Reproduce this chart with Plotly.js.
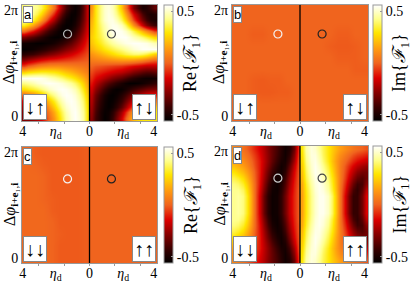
<!DOCTYPE html>
<html><head><meta charset="utf-8">
<script src="https://cdn.plot.ly/plotly-3.0.1.min.js"></script>
<style>html,body{margin:0;padding:0;background:#fff}#plot{width:415px;height:282px}</style>
</head><body><div id="plot"></div>
<script>
// fine grid centres (eta_d from the divider; Delta phi in units of pi) for panels a and d
const etaFine = [0.125, 0.375, 0.625, 0.875, 1.125, 1.375, 1.625, 1.875, 2.125, 2.375, 2.625, 2.875, 3.125, 3.375, 3.625, 3.875];
const phiFine = [0.05, 0.15, 0.25, 0.35, 0.45, 0.55, 0.65, 0.75, 0.85, 0.95, 1.05, 1.15, 1.25, 1.35, 1.45, 1.55, 1.65, 1.75, 1.85, 1.95];
// coarse grid centres for the nearly flat panels b and c
const etaCoarse = [0.25, 0.75, 1.25, 1.75, 2.25, 2.75, 3.25, 3.75];
const phiCoarse = [0.1, 0.3, 0.5, 0.7, 0.9, 1.1, 1.3, 1.5, 1.7, 1.9];

// panel a : Re{F1}; left half = down-up, right half = up-down (rows: phi low -> high)
const aLeft = [
  [0.30, 0.45, 0.52, 0.55, 0.52, 0.45, 0.35, 0.24, 0.13, 0.02, -0.08, -0.16, -0.22, -0.26, -0.29, -0.30],
  [0.30, 0.44, 0.51, 0.55, 0.53, 0.47, 0.38, 0.28, 0.17, 0.06, -0.04, -0.12, -0.19, -0.24, -0.27, -0.28],
  [0.29, 0.42, 0.50, 0.54, 0.54, 0.50, 0.43, 0.34, 0.24, 0.13, 0.02, -0.07, -0.14, -0.19, -0.22, -0.24],
  [0.27, 0.40, 0.48, 0.53, 0.55, 0.53, 0.48, 0.41, 0.32, 0.22, 0.12, 0.03, -0.05, -0.10, -0.14, -0.16],
  [0.24, 0.36, 0.45, 0.51, 0.54, 0.55, 0.53, 0.49, 0.43, 0.36, 0.28, 0.20, 0.13, 0.07, 0.03, 0.00],
  [0.20, 0.31, 0.40, 0.47, 0.51, 0.54, 0.55, 0.54, 0.52, 0.49, 0.45, 0.41, 0.37, 0.34, 0.31, 0.28],
  [0.16, 0.25, 0.33, 0.39, 0.44, 0.48, 0.51, 0.53, 0.54, 0.55, 0.54, 0.52, 0.50, 0.47, 0.44, 0.42],
  [0.12, 0.18, 0.23, 0.28, 0.32, 0.36, 0.40, 0.43, 0.46, 0.49, 0.52, 0.54, 0.55, 0.55, 0.55, 0.55],
  [0.07, 0.10, 0.13, 0.16, 0.19, 0.22, 0.25, 0.28, 0.30, 0.31, 0.32, 0.32, 0.31, 0.30, 0.28, 0.25],
  [0.03, 0.04, 0.05, 0.06, 0.07, 0.08, 0.09, 0.10, 0.10, 0.10, 0.09, 0.08, 0.06, 0.03, 0.00, -0.05],
  [-0.01, -0.02, -0.03, -0.04, -0.05, -0.06, -0.07, -0.08, -0.09, -0.10, -0.12, -0.14, -0.17, -0.20, -0.24, -0.28],
  [-0.04, -0.07, -0.10, -0.13, -0.16, -0.19, -0.22, -0.25, -0.28, -0.31, -0.34, -0.37, -0.40, -0.43, -0.45, -0.47],
  [-0.07, -0.12, -0.17, -0.22, -0.26, -0.30, -0.34, -0.38, -0.41, -0.44, -0.47, -0.49, -0.51, -0.53, -0.54, -0.55],
  [-0.10, -0.17, -0.24, -0.30, -0.36, -0.41, -0.45, -0.48, -0.51, -0.53, -0.54, -0.55, -0.55, -0.54, -0.53, -0.52],
  [-0.13, -0.22, -0.31, -0.39, -0.45, -0.50, -0.53, -0.55, -0.55, -0.53, -0.50, -0.46, -0.42, -0.38, -0.34, -0.30],
  [-0.16, -0.27, -0.37, -0.45, -0.51, -0.54, -0.55, -0.53, -0.49, -0.43, -0.36, -0.28, -0.20, -0.12, -0.04, 0.03],
  [-0.18, -0.31, -0.42, -0.50, -0.54, -0.55, -0.52, -0.46, -0.37, -0.27, -0.16, -0.05, 0.06, 0.16, 0.25, 0.32],
  [-0.20, -0.34, -0.45, -0.52, -0.55, -0.53, -0.46, -0.36, -0.24, -0.11, 0.02, 0.14, 0.25, 0.34, 0.40, 0.44],
  [-0.20, -0.36, -0.48, -0.54, -0.54, -0.47, -0.37, -0.24, -0.10, 0.04, 0.16, 0.27, 0.36, 0.42, 0.45, 0.45],
  [-0.20, -0.38, -0.50, -0.54, -0.50, -0.40, -0.27, -0.12, 0.03, 0.17, 0.28, 0.37, 0.42, 0.44, 0.43, 0.40]
];
const aRight = [
  [-0.28, -0.42, -0.50, -0.55, -0.52, -0.44, -0.32, -0.17, -0.02, 0.10, 0.20, 0.26, 0.30, 0.30, 0.30, 0.30],
  [-0.26, -0.40, -0.50, -0.54, -0.53, -0.47, -0.37, -0.24, -0.10, 0.03, 0.13, 0.20, 0.26, 0.29, 0.30, 0.30],
  [-0.24, -0.38, -0.48, -0.53, -0.55, -0.52, -0.46, -0.36, -0.25, -0.13, -0.02, 0.08, 0.15, 0.20, 0.22, 0.22],
  [-0.22, -0.36, -0.46, -0.52, -0.55, -0.54, -0.50, -0.43, -0.34, -0.25, -0.16, -0.08, -0.02, 0.02, 0.04, 0.05],
  [-0.20, -0.33, -0.43, -0.50, -0.54, -0.55, -0.53, -0.48, -0.42, -0.35, -0.28, -0.22, -0.17, -0.13, -0.10, -0.10],
  [-0.16, -0.27, -0.36, -0.43, -0.49, -0.53, -0.55, -0.54, -0.51, -0.47, -0.43, -0.39, -0.36, -0.33, -0.31, -0.30],
  [-0.12, -0.20, -0.27, -0.33, -0.38, -0.42, -0.46, -0.50, -0.53, -0.55, -0.55, -0.54, -0.52, -0.50, -0.48, -0.45],
  [-0.08, -0.14, -0.18, -0.22, -0.26, -0.30, -0.33, -0.36, -0.40, -0.44, -0.47, -0.50, -0.52, -0.53, -0.53, -0.52],
  [-0.04, -0.08, -0.10, -0.12, -0.14, -0.16, -0.18, -0.20, -0.23, -0.26, -0.30, -0.33, -0.36, -0.38, -0.38, -0.36],
  [0.00, -0.02, -0.03, -0.04, -0.05, -0.06, -0.07, -0.08, -0.10, -0.12, -0.14, -0.16, -0.18, -0.20, -0.20, -0.20],
  [0.06, 0.07, 0.08, 0.09, 0.10, 0.11, 0.12, 0.13, 0.13, 0.13, 0.12, 0.10, 0.08, 0.05, 0.02, 0.00],
  [0.12, 0.15, 0.18, 0.21, 0.24, 0.27, 0.30, 0.33, 0.36, 0.38, 0.40, 0.40, 0.38, 0.35, 0.30, 0.25],
  [0.18, 0.22, 0.26, 0.30, 0.33, 0.36, 0.39, 0.42, 0.45, 0.48, 0.51, 0.53, 0.55, 0.55, 0.55, 0.55],
  [0.22, 0.27, 0.32, 0.37, 0.41, 0.45, 0.48, 0.51, 0.53, 0.54, 0.55, 0.55, 0.54, 0.53, 0.50, 0.47],
  [0.24, 0.30, 0.36, 0.42, 0.47, 0.51, 0.54, 0.55, 0.55, 0.52, 0.48, 0.44, 0.40, 0.35, 0.30, 0.25],
  [0.22, 0.30, 0.38, 0.45, 0.50, 0.54, 0.55, 0.54, 0.50, 0.44, 0.36, 0.27, 0.18, 0.10, 0.02, -0.06],
  [0.20, 0.30, 0.40, 0.47, 0.52, 0.54, 0.53, 0.48, 0.38, 0.25, 0.10, -0.05, -0.18, -0.30, -0.38, -0.43],
  [0.18, 0.30, 0.42, 0.50, 0.53, 0.53, 0.48, 0.38, 0.25, 0.10, -0.05, -0.20, -0.32, -0.42, -0.48, -0.50],
  [0.15, 0.30, 0.42, 0.50, 0.53, 0.50, 0.42, 0.30, 0.15, 0.00, -0.15, -0.28, -0.40, -0.47, -0.50, -0.48],
  [0.12, 0.30, 0.42, 0.50, 0.52, 0.48, 0.38, 0.22, 0.05, -0.12, -0.30, -0.42, -0.50, -0.48, -0.42, -0.35]
];
// panel b : Im{F1}, nearly zero (coarse grid)
const bLeft = [
  [0.00, 0.00, 0.00, 0.00, 0.00, 0.00, 0.00, 0.00],
  [0.00, 0.00, 0.00, 0.00, 0.00, 0.00, 0.00, 0.00],
  [0.00, -0.01, -0.01, -0.015, -0.015, -0.01, 0.00, 0.00],
  [0.00, 0.00, -0.01, -0.01, -0.015, -0.01, 0.00, 0.00],
  [0.00, 0.00, 0.00, 0.00, 0.00, 0.00, 0.00, 0.00],
  [0.00, 0.00, 0.00, 0.00, 0.00, 0.00, 0.00, 0.00],
  [0.00, 0.00, 0.00, 0.00, 0.00, 0.00, 0.00, 0.00],
  [0.00, 0.00, 0.00, 0.00, -0.01, -0.01, 0.00, 0.00],
  [0.00, 0.00, 0.00, 0.00, 0.00, 0.00, 0.00, 0.00],
  [0.00, 0.00, 0.00, 0.00, 0.00, 0.00, 0.00, 0.00]
];
const bRight = [
  [0.00, 0.00, 0.00, 0.00, 0.00, 0.00, 0.00, 0.00],
  [0.00, 0.00, 0.00, 0.00, 0.00, 0.00, 0.00, 0.00],
  [0.00, 0.00, 0.00, 0.00, 0.00, 0.00, 0.00, 0.00],
  [0.00, 0.00, 0.00, 0.00, 0.00, 0.00, 0.00, 0.00],
  [0.00, 0.00, 0.00, 0.00, 0.00, 0.00, -0.01, -0.01],
  [0.00, 0.00, 0.00, 0.00, -0.01, -0.01, -0.01, 0.00],
  [0.00, 0.00, 0.00, -0.01, -0.015, -0.015, -0.01, 0.00],
  [0.00, 0.00, 0.00, 0.00, -0.01, -0.01, 0.00, 0.00],
  [0.00, 0.00, 0.00, 0.00, 0.00, 0.00, 0.00, 0.00],
  [0.00, 0.00, 0.00, 0.00, 0.00, 0.00, 0.00, 0.00]
];
// panel c : Re{F1}, nearly zero (coarse grid)
const cLeft = [
  [-0.01, -0.015, -0.015, -0.015, 0.00, 0.01, 0.01, 0.01],
  [-0.01, -0.015, -0.015, -0.015, 0.00, 0.01, 0.01, 0.01],
  [-0.01, -0.015, -0.015, -0.01, 0.00, 0.01, 0.01, 0.01],
  [-0.01, -0.015, -0.015, -0.015, 0.00, 0.01, 0.01, 0.01],
  [-0.01, -0.015, -0.015, -0.015, -0.01, 0.01, 0.01, 0.01],
  [-0.01, -0.015, -0.015, -0.015, -0.01, 0.00, 0.01, 0.01],
  [-0.01, -0.015, -0.015, -0.015, -0.015, 0.00, 0.01, 0.01],
  [-0.01, -0.015, -0.015, -0.015, -0.015, 0.00, 0.01, 0.01],
  [-0.01, -0.015, -0.015, -0.015, -0.015, -0.01, 0.00, 0.01],
  [-0.01, -0.015, -0.015, -0.015, -0.015, -0.015, -0.01, 0.01]
];
const cRight = [
  [0.00, 0.00, 0.00, 0.00, 0.00, 0.00, 0.00, 0.00],
  [0.00, 0.00, 0.00, 0.00, 0.00, 0.00, 0.00, 0.00],
  [0.00, 0.00, 0.00, 0.00, 0.00, 0.00, 0.00, 0.00],
  [0.00, 0.00, 0.00, 0.00, 0.00, 0.00, 0.00, 0.00],
  [0.00, 0.00, 0.00, 0.00, 0.00, 0.00, 0.00, 0.00],
  [0.00, 0.00, 0.00, 0.00, 0.00, 0.00, 0.00, 0.00],
  [0.00, 0.00, 0.00, 0.00, 0.00, 0.00, 0.00, 0.00],
  [0.00, 0.00, 0.00, 0.00, 0.00, 0.00, 0.00, 0.00],
  [0.00, 0.00, 0.00, 0.00, 0.00, 0.00, 0.00, 0.00],
  [0.00, 0.00, 0.00, 0.00, 0.00, 0.00, 0.00, 0.00]
];
// panel d : Im{F1}; left half = down-down, right half = up-up
const dLeft = [
  [-0.10, -0.34, -0.49, -0.52, -0.47, -0.41, -0.35, -0.29, -0.22, -0.16, -0.10, -0.05, -0.01, 0.03, 0.06, 0.08],
  [-0.08, -0.29, -0.46, -0.52, -0.48, -0.42, -0.35, -0.28, -0.21, -0.14, -0.07, -0.02, 0.03, 0.06, 0.09, 0.11],
  [-0.06, -0.24, -0.42, -0.51, -0.50, -0.44, -0.36, -0.28, -0.20, -0.12, -0.05, 0.01, 0.06, 0.10, 0.13, 0.15],
  [-0.05, -0.19, -0.37, -0.49, -0.52, -0.47, -0.39, -0.30, -0.21, -0.12, -0.04, 0.03, 0.09, 0.14, 0.18, 0.21],
  [-0.04, -0.15, -0.32, -0.46, -0.52, -0.50, -0.43, -0.34, -0.23, -0.12, -0.02, 0.07, 0.14, 0.20, 0.25, 0.29],
  [-0.03, -0.13, -0.28, -0.42, -0.51, -0.52, -0.47, -0.37, -0.25, -0.13, -0.01, 0.10, 0.19, 0.27, 0.33, 0.36],
  [-0.03, -0.11, -0.25, -0.39, -0.49, -0.53, -0.50, -0.41, -0.28, -0.14, 0.00, 0.13, 0.24, 0.33, 0.39, 0.41],
  [-0.02, -0.10, -0.22, -0.36, -0.47, -0.53, -0.52, -0.44, -0.31, -0.16, 0.00, 0.15, 0.28, 0.38, 0.43, 0.43],
  [-0.02, -0.09, -0.20, -0.33, -0.45, -0.52, -0.53, -0.47, -0.35, -0.18, 0.00, 0.17, 0.31, 0.41, 0.45, 0.43],
  [-0.02, -0.09, -0.20, -0.33, -0.45, -0.52, -0.53, -0.47, -0.35, -0.18, 0.00, 0.17, 0.31, 0.41, 0.45, 0.43],
  [-0.02, -0.09, -0.20, -0.33, -0.45, -0.52, -0.53, -0.47, -0.35, -0.18, 0.00, 0.17, 0.31, 0.41, 0.45, 0.43],
  [-0.02, -0.09, -0.20, -0.33, -0.45, -0.52, -0.53, -0.47, -0.35, -0.18, 0.00, 0.17, 0.31, 0.41, 0.45, 0.43],
  [-0.02, -0.10, -0.22, -0.36, -0.47, -0.53, -0.52, -0.44, -0.31, -0.16, 0.00, 0.15, 0.28, 0.38, 0.43, 0.43],
  [-0.03, -0.11, -0.25, -0.39, -0.49, -0.53, -0.50, -0.41, -0.28, -0.14, 0.00, 0.13, 0.24, 0.33, 0.39, 0.41],
  [-0.03, -0.13, -0.28, -0.42, -0.51, -0.52, -0.47, -0.37, -0.25, -0.13, -0.01, 0.10, 0.19, 0.27, 0.33, 0.36],
  [-0.04, -0.15, -0.32, -0.46, -0.52, -0.50, -0.43, -0.34, -0.23, -0.12, -0.02, 0.07, 0.14, 0.20, 0.25, 0.29],
  [-0.05, -0.19, -0.37, -0.49, -0.52, -0.47, -0.39, -0.30, -0.21, -0.12, -0.04, 0.03, 0.09, 0.14, 0.18, 0.21],
  [-0.06, -0.24, -0.42, -0.51, -0.50, -0.44, -0.36, -0.28, -0.20, -0.12, -0.05, 0.01, 0.06, 0.10, 0.13, 0.15],
  [-0.08, -0.29, -0.46, -0.52, -0.48, -0.42, -0.35, -0.28, -0.21, -0.14, -0.07, -0.02, 0.03, 0.06, 0.09, 0.11],
  [-0.10, -0.34, -0.49, -0.52, -0.47, -0.41, -0.35, -0.29, -0.22, -0.16, -0.10, -0.05, -0.01, 0.03, 0.06, 0.08]
];
const dRight = [
  [0.30, 0.46, 0.52, 0.50, 0.44, 0.37, 0.30, 0.24, 0.19, 0.14, 0.10, 0.07, 0.04, 0.02, 0.00, -0.02],
  [0.28, 0.44, 0.52, 0.52, 0.46, 0.38, 0.30, 0.23, 0.16, 0.10, 0.05, 0.01, -0.03, -0.06, -0.08, -0.10],
  [0.26, 0.42, 0.51, 0.53, 0.48, 0.40, 0.31, 0.22, 0.14, 0.07, 0.01, -0.04, -0.09, -0.13, -0.16, -0.18],
  [0.24, 0.40, 0.50, 0.54, 0.50, 0.43, 0.34, 0.24, 0.15, 0.06, -0.02, -0.09, -0.15, -0.20, -0.24, -0.26],
  [0.22, 0.38, 0.49, 0.54, 0.52, 0.46, 0.37, 0.27, 0.16, 0.06, -0.04, -0.13, -0.21, -0.28, -0.32, -0.32],
  [0.20, 0.36, 0.47, 0.53, 0.53, 0.48, 0.40, 0.30, 0.18, 0.06, -0.06, -0.17, -0.27, -0.35, -0.38, -0.33],
  [0.17, 0.33, 0.45, 0.52, 0.54, 0.51, 0.43, 0.32, 0.19, 0.05, -0.09, -0.22, -0.34, -0.42, -0.40, -0.28],
  [0.16, 0.31, 0.43, 0.51, 0.54, 0.52, 0.45, 0.34, 0.20, 0.04, -0.12, -0.27, -0.40, -0.45, -0.36, -0.20],
  [0.15, 0.30, 0.42, 0.50, 0.54, 0.54, 0.49, 0.38, 0.22, 0.04, -0.15, -0.32, -0.44, -0.44, -0.32, -0.15],
  [0.15, 0.30, 0.42, 0.50, 0.54, 0.54, 0.49, 0.38, 0.22, 0.04, -0.15, -0.32, -0.44, -0.44, -0.32, -0.15],
  [0.15, 0.30, 0.42, 0.50, 0.54, 0.54, 0.49, 0.38, 0.22, 0.04, -0.15, -0.32, -0.44, -0.44, -0.32, -0.15],
  [0.15, 0.30, 0.42, 0.50, 0.54, 0.54, 0.49, 0.38, 0.22, 0.04, -0.15, -0.32, -0.44, -0.44, -0.32, -0.15],
  [0.16, 0.31, 0.43, 0.51, 0.54, 0.52, 0.45, 0.34, 0.20, 0.04, -0.12, -0.27, -0.40, -0.45, -0.36, -0.20],
  [0.17, 0.33, 0.45, 0.52, 0.54, 0.51, 0.43, 0.32, 0.19, 0.05, -0.09, -0.22, -0.34, -0.42, -0.40, -0.28],
  [0.20, 0.36, 0.47, 0.53, 0.53, 0.48, 0.40, 0.30, 0.18, 0.06, -0.06, -0.17, -0.27, -0.35, -0.38, -0.33],
  [0.22, 0.38, 0.49, 0.54, 0.52, 0.46, 0.37, 0.27, 0.16, 0.06, -0.04, -0.13, -0.21, -0.28, -0.32, -0.32],
  [0.24, 0.40, 0.50, 0.54, 0.50, 0.43, 0.34, 0.24, 0.15, 0.06, -0.02, -0.09, -0.15, -0.20, -0.24, -0.26],
  [0.26, 0.42, 0.51, 0.53, 0.48, 0.40, 0.31, 0.22, 0.14, 0.07, 0.01, -0.04, -0.09, -0.13, -0.16, -0.18],
  [0.28, 0.44, 0.52, 0.52, 0.46, 0.38, 0.30, 0.23, 0.16, 0.10, 0.05, 0.01, -0.03, -0.06, -0.08, -0.10],
  [0.30, 0.46, 0.52, 0.50, 0.44, 0.37, 0.30, 0.24, 0.19, 0.14, 0.10, 0.07, 0.04, 0.02, 0.00, -0.02]
];

const panelLetters = ['a', 'b', 'c', 'd'];
const leftSpins = ['↓↑', '↓↑', '↓↓', '↓↓'];
const rightSpins = ['↑↓', '↑↓', '↑↑', '↑↑'];
const cbTitles = ['Re{<i>ℱ</i><sub>1</sub>}', 'Im{<i>ℱ</i><sub>1</sub>}', 'Re{<i>ℱ</i><sub>1</sub>}', 'Im{<i>ℱ</i><sub>1</sub>}'];
const circleEta = [1.3, 1.3, 1.3, 1.3];
const circlePhi = [1.5, 1.5, 1.45, 1.45];
const circleLeftColor = ['#bbbbbb', '#f4f4f4', '#f4f4f4', '#cccccc'];
const circleRightColor = ['#444444', '#222222', '#222222', '#444444'];
const xTickVals = [-3.95, -2, 0, 2, 3.8];
const xTickText = ['4', '<i>η</i><sub>d</sub>', '0', '<i>η</i><sub>d</sub>', '4'];
const yTickVals = [0.08, 1.92];
const yTickText = ['0', '2π'];
const cbTickVals = [-0.5, 0.5];
const cbTickText = ['-0.5', '0.5'];

const leftData = [aLeft, bLeft, cLeft, dLeft];
const rightData = [aRight, bRight, cRight, dRight];
const gridEta = [etaFine, etaCoarse, etaCoarse, etaFine];
const gridPhi = [phiFine, phiCoarse, phiCoarse, phiFine];

const W = 415, H = 282;
// pixel boxes [x0, x1, yTop, yBottom]
const boxes = [[22, 157, 5, 121], [232, 368, 5, 121], [22, 157, 147, 263], [232, 368, 146, 263]];
const cbX = [164, 373, 164, 373];

const hot = [
  [0, '#000000'], [0.12, '#3a0000'], [0.25, '#8a0000'], [0.37, '#dc0000'],
  [0.5, '#f0641e'], [0.62, '#ff9a10'], [0.76, '#ffe600'], [0.88, '#ffff8c'], [1, '#ffffff']
];
const serif = 'Liberation Serif, DejaVu Serif, serif';
const sans = 'Liberation Sans, Arial, sans-serif';

const traces = [];
const layout = {
  width: W, height: H, margin: {l: 0, r: 0, t: 0, b: 0},
  paper_bgcolor: '#fff', plot_bgcolor: '#fff', showlegend: false,
  shapes: [], annotations: []
};

for (let p = 0; p < 4; p++) {
  const sfx = p === 0 ? '' : String(p + 1);
  const xa = 'x' + sfx, ya = 'y' + sfx;
  const ca = 'coloraxis' + sfx;
  const [x0, x1, yt, yb] = boxes[p];
  traces.push({
    type: 'heatmap', xaxis: xa, yaxis: ya, coloraxis: ca, zsmooth: 'best',
    x: gridEta[p].map(e => -e).reverse(), y: gridPhi[p],
    z: leftData[p].map(r => r.slice().reverse()), hoverinfo: 'skip'
  });
  traces.push({
    type: 'heatmap', xaxis: xa, yaxis: ya, coloraxis: ca, zsmooth: 'best',
    x: gridEta[p], y: gridPhi[p], z: rightData[p], hoverinfo: 'skip'
  });
  traces.push({
    type: 'scatter', mode: 'markers', xaxis: xa, yaxis: ya,
    x: [-circleEta[p], circleEta[p]], y: [circlePhi[p], circlePhi[p]],
    marker: {symbol: 'circle-open', size: 8, line: {width: 1.2},
      color: [circleLeftColor[p], circleRightColor[p]]},
    hoverinfo: 'skip'
  });
  layout['xaxis' + sfx] = {
    domain: [x0 / W, x1 / W], anchor: ya, range: [-4, 4],
    tickmode: 'array', tickvals: xTickVals, ticktext: xTickText, ticks: '',
    ticklabelstandoff: -3, ticklabeloverflow: 'allow',
    tickfont: {family: serif, size: 14, color: '#000'},
    minor: {tick0: 0, dtick: 1.5, ticks: 'outside', ticklen: 2, tickcolor: '#999'},
    showline: true, mirror: true, linecolor: '#999', linewidth: 1,
    showgrid: false, zeroline: false, fixedrange: true
  };
  layout['yaxis' + sfx] = {
    domain: [1 - yb / H, 1 - yt / H], anchor: xa, range: [0, 2],
    tickmode: 'array', tickvals: yTickVals, ticktext: yTickText, ticks: '',
    ticklabeloverflow: 'allow',
    tickfont: {family: serif, size: 14, color: '#000'},
    showline: true, mirror: true, linecolor: '#999', linewidth: 1,
    showgrid: false, zeroline: false, fixedrange: true
  };
  layout[ca] = {
    cmin: -0.56, cmax: 0.56, colorscale: hot,
    colorbar: {
      x: cbX[p] / W, xanchor: 'left', xpad: 0, ypad: 0,
      y: 1 - (yt + yb) / 2 / H, yanchor: 'middle', len: (yb - yt) / H, lenmode: 'fraction',
      thickness: 9, thicknessmode: 'pixels', outlinecolor: '#999', outlinewidth: 1,
      tickmode: 'array', tickvals: cbTickVals, ticktext: cbTickText,
      ticks: 'inside', ticklen: 2, tickcolor: '#999', ticklabeloverflow: 'allow',
      tickfont: {family: serif, size: 14, color: '#000'}
    }
  };
  layout.shapes.push({type: 'line', xref: xa, yref: ya, x0: 0, x1: 0, y0: 0, y1: 2,
    line: {color: '#000', width: 1.3}});
  layout.annotations.push({xref: xa, yref: ya, x: -4, y: 2, xanchor: 'left', yanchor: 'top',
    xshift: 1, yshift: -1, text: panelLetters[p], showarrow: false,
    font: {family: sans, size: 13, color: '#000'}, bgcolor: '#fff', bordercolor: '#888',
    borderwidth: 1, borderpad: 0});
  layout.annotations.push({xref: xa, yref: ya, x: -4, y: 0, xanchor: 'left', yanchor: 'bottom',
    xshift: 1, yshift: 1, text: leftSpins[p], showarrow: false,
    font: {family: serif, size: 20, color: '#000'}, bgcolor: '#fff', bordercolor: '#888',
    borderwidth: 1, borderpad: 1});
  layout.annotations.push({xref: xa, yref: ya, x: 4, y: 0, xanchor: 'right', yanchor: 'bottom',
    xshift: -1, yshift: 1, text: rightSpins[p], showarrow: false,
    font: {family: serif, size: 20, color: '#000'}, bgcolor: '#fff', bordercolor: '#888',
    borderwidth: 1, borderpad: 1});
  layout.annotations.push({xref: 'paper', yref: 'paper', x: (x0 - 12) / W, y: 1 - (yt + yb) / 2 / H,
    xanchor: 'center', yanchor: 'middle', textangle: -90, showarrow: false,
    text: 'Δ<i>φ</i><sub><b>i</b>+<b>e</b>₁,<b>i</b></sub>',
    font: {family: serif, size: 16, color: '#000'}});
  layout.annotations.push({xref: 'paper', yref: 'paper', x: (cbX[p] + 28) / W, y: 1 - (yt + yb) / 2 / H,
    xanchor: 'center', yanchor: 'middle', textangle: -90, showarrow: false,
    text: cbTitles[p], font: {family: serif, size: 18, color: '#000'}});
}

Plotly.newPlot('plot', traces, layout, {staticPlot: true, displayModeBar: false});
</script></body></html>
